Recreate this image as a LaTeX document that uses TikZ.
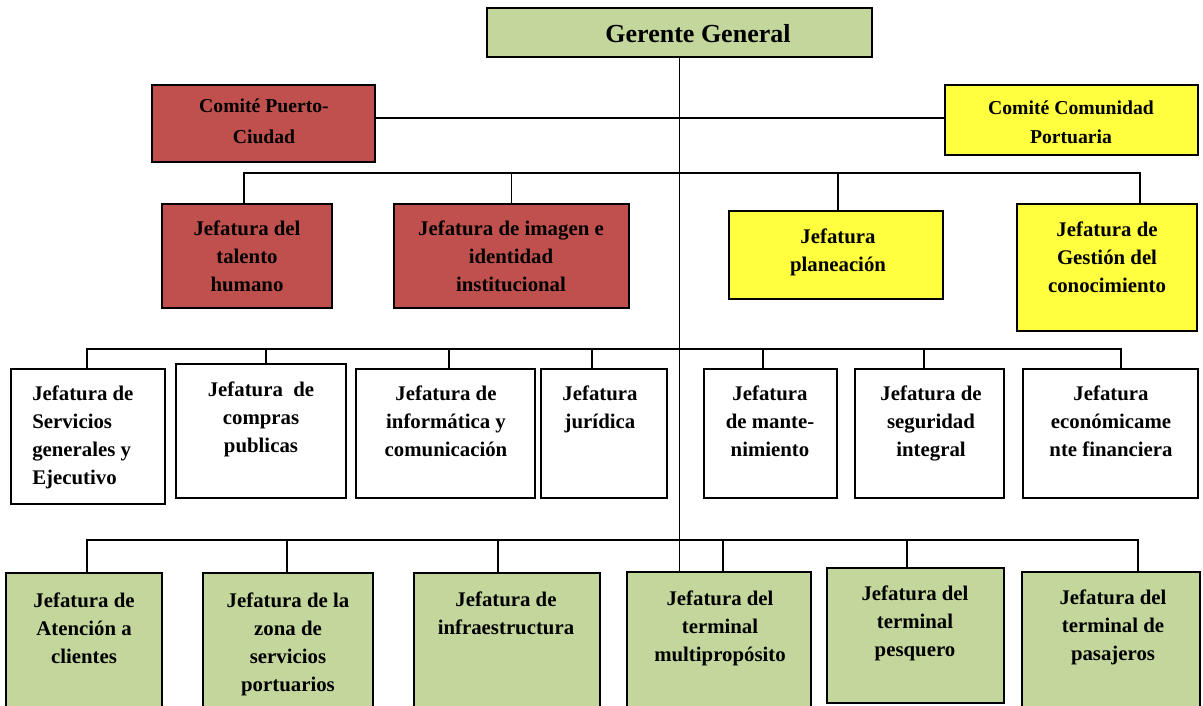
\documentclass[tikz,border=0pt]{standalone}
\usepackage{fontspec}
\setmainfont{Liberation Serif}
\usetikzlibrary{fit, calc}

\definecolor{jverde}{HTML}{C3D69B}
\definecolor{jrojo}{HTML}{C0504D}
\definecolor{jamarillo}{HTML}{FFFF40}

\begin{document}
\begin{tikzpicture}[
    x=0.025cm, y=-0.025cm,
    box/.style={draw, line width=1.8pt, inner sep=0pt},
    verde/.style={box, fill=jverde},
    rojo/.style={box, fill=jrojo},
    amarillo/.style={box, fill=jamarillo},
    blanco/.style={box, fill=white},
    txt/.style={align=center, anchor=north, inner sep=0pt,
        font=\bfseries\fontsize{14.8}{19.8}\selectfont},
    link/.style={line width=1.3pt}
]

\path[use as bounding box, clip] (0,0) rectangle (1203,705);

% gerencia y comites
\node[verde, fit={(487,8) (872,57)}] (gerente) {};
\node[rojo, fit={(152,85) (375,162)}] (puerto) {};
\node[amarillo, fit={(945,85) (1198,155)}] (comunidad) {};

% jefaturas de apoyo
\node[rojo, fit={(162,204) (332,308)}] (talento) {};
\node[rojo, fit={(394,204) (629,308)}] (imagen) {};
\node[amarillo, fit={(729,211) (943,299)}] (planea) {};
\node[amarillo, fit={(1017,204) (1197,331)}] (gestion) {};

% jefaturas administrativas
\node[blanco, fit={(11,369) (165,504)}] (servicios) {};
\node[blanco, fit={(176,364) (346,498)}] (compras) {};
\node[blanco, fit={(356,369) (535,498)}] (informatica) {};
\node[blanco, fit={(541,369) (667,498)}] (juridica) {};
\node[blanco, fit={(704,369) (837,498)}] (mante) {};
\node[blanco, fit={(855,369) (1004,498)}] (seguridad) {};
\node[blanco, fit={(1023,369) (1198,498)}] (economica) {};

% jefaturas operativas
\node[verde, fit={(6,573) (162,720)}] (atencion) {};
\node[verde, fit={(203,573) (373,720)}] (zona) {};
\node[verde, fit={(414,573) (600,720)}] (infra) {};
\node[verde, fit={(627,572) (811,720)}] (multi) {};
\node[verde, fit={(827,568) (1004,703)}] (pesquero) {};
\node[verde, fit={(1022,572) (1200,720)}] (pasajeros) {};

% lineas
\coordinate (hub1) at (680,118);
\coordinate (bar1) at (680,173);
\coordinate (bar2) at (680,349);
\coordinate (bar3) at (680,540);

\draw[link] (gerente.south) -- (gerente.south |- multi.north);
\draw[link] (puerto.east |- hub1) -- (comunidad.west |- hub1);
\foreach \n/\dx in {talento/-3, imagen/0, planea/2, gestion/33}
    \draw[link] ($(\n.north)+(\dx,0)$) |- (bar1);
\foreach \n/\dx in {servicios/-1, compras/5, informatica/3.5, juridica/-12,
        mante/-7.5, seguridad/-5.5, economica/10.5}
    \draw[link] ($(\n.north)+(\dx,0)$) |- (bar2);
\foreach \n/\dx in {atencion/3, zona/-1, infra/-9, multi/4,
        pesquero/-8.5, pasajeros/27}
    \draw[link] ($(\n.north)+(\dx,0)$) |- (bar3);

% textos
\node[txt, anchor=center, font=\bfseries\fontsize{18.5}{22}\selectfont]
    (gerente-t) at (698,34) {Gerente General};
\node[txt, font=\bfseries\fontsize{14}{22}\selectfont]
    (puerto-t) at (264,99) {Comité Puerto-\\Ciudad};
\node[txt, font=\bfseries\fontsize{14}{20.5}\selectfont]
    (comunidad-t) at (1071,101) {Comité Comunidad\\Portuaria};

\node[txt] (talento-t) at (247,221) {Jefatura del\\talento\\humano};
\node[txt] (imagen-t) at (511,221) {Jefatura de imagen e\\identidad\\institucional};
\node[txt] (planea-t) at (838,229) {Jefatura\\planeación};
\node[txt] (gestion-t) at (1107,222) {Jefatura de\\Gestión del\\conocimiento};

\node[txt, anchor=north west, align=left]
    (servicios-t) at (32,386) {Jefatura de\\Servicios\\generales y\\Ejecutivo};
\node[txt] (compras-t) at (261,382) {Jefatura\ \ de\\compras\\publicas};
\node[txt] (informatica-t) at (446,386) {Jefatura de\\informática y\\comunicación};
\node[txt] (juridica-t) at (600,386) {Jefatura\\jurídica};
\node[txt] (mante-t) at (770,386) {Jefatura\\de mante-\\nimiento};
\node[txt] (seguridad-t) at (931,386) {Jefatura de\\seguridad\\integral};
\node[txt] (economica-t) at (1111,386) {Jefatura\\económicame\\nte financiera};

\node[txt] (atencion-t) at (84,593) {Jefatura de\\Atención a\\clientes};
\node[txt] (zona-t) at (288,593) {Jefatura de la\\zona de\\servicios\\portuarios};
\node[txt] (infra-t) at (506,592) {Jefatura de\\infraestructura};
\node[txt] (multi-t) at (720,591) {Jefatura del\\terminal\\multipropósito};
\node[txt] (pesquero-t) at (915,586) {Jefatura del\\terminal\\pesquero};
\node[txt] (pasajeros-t) at (1113,590) {Jefatura del\\terminal de\\pasajeros};

\end{tikzpicture}
\end{document}
